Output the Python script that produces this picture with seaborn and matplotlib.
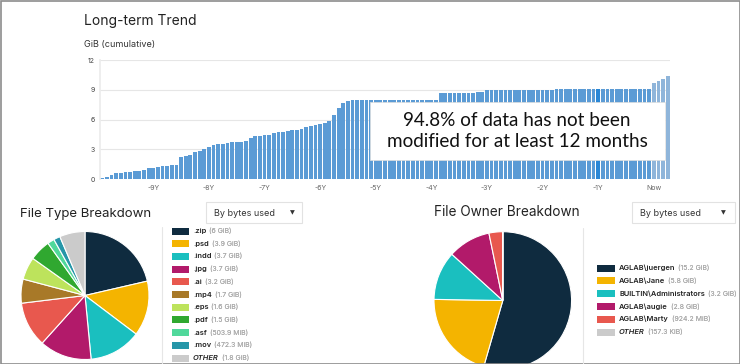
import seaborn as sns
import matplotlib.pyplot as plt
from matplotlib.patches import Rectangle
from matplotlib.transforms import Affine2D

# --- Data ---
MONTHS = list(range(-119, 4))
GIB_CUMULATIVE = [
    0.13, 0.23, 0.4, 0.64, 0.65, 0.68, 0.75, 0.8, 0.85, 0.9,
    1.1, 1.15, 1.2, 1.3, 1.35, 1.4, 1.4,
    2.2, 2.35, 2.45, 2.7, 2.8, 3.0, 3.2, 3.4, 3.5, 3.55, 3.6, 3.7, 3.7, 3.75, 3.8,
    4.1, 4.3, 4.35, 4.4, 4.45, 4.65, 4.7, 4.77, 4.8, 4.9, 4.95, 5.05, 5.2, 5.3,
    5.4, 5.5, 5.6, 5.8,
    6.5, 7.15, 7.65, 7.88,
    7.95, 7.95, 7.95, 7.95, 7.95, 7.95, 7.95, 7.95, 7.95, 7.95, 7.95, 7.95, 7.95,
    7.95, 7.95, 7.95, 7.95,
    8.0, 8.0,
    8.7, 8.7, 8.7, 8.7, 8.7, 8.7, 8.7, 8.7, 8.75, 8.75,
    9.0, 9.0, 9.0, 9.0, 9.0, 9.0, 9.0, 9.0, 9.0, 9.0, 9.0, 9.0, 9.0, 9.0, 9.0,
    9.1, 9.1, 9.1, 9.1, 9.1, 9.1, 9.1, 9.1, 9.1, 9.1, 9.1, 9.1, 9.1, 9.1, 9.1,
    9.1, 9.1, 9.1, 9.1, 9.1, 9.1,
    9.7, 9.9, 10.1, 10.35,
]
TICK_MONTHS = [-108, -96, -84, -72, -60, -48, -36, -24, -12, 0]
TICK_LABELS = ['-9Y', '-8Y', '-7Y', '-6Y', '-5Y', '-4Y', '-3Y', '-2Y', '-1Y', 'Now']
Y_TICKS = [0, 3, 6, 9, 12]
HIGHLIGHT_MONTH = -12

TYPE_NAMES = ['.zip', '.psd', '.indd', '.jpg', '.ai', '.mp4', '.eps', '.pdf',
              '.asf', '.mov', 'OTHER']
TYPE_SIZES = [6.0, 3.9, 3.7, 3.7, 3.2, 1.7, 1.6, 1.5, 0.492, 0.461, 1.8]
TYPE_SIZE_LABELS = ['6 GiB', '3.9 GiB', '3.7 GiB', '3.7 GiB', '3.2 GiB', '1.7 GiB',
                    '1.6 GiB', '1.5 GiB', '503.9 MiB', '472.3 MiB', '1.8 GiB']
TYPE_COLORS = ['#0f2b3f', '#f4b400', '#1abfbf', '#b21a6a', '#e8584e', '#a87928',
               '#bde35c', '#30a830', '#50d89b', '#2696a8', '#cbcbcb']

OWNER_NAMES = ['AGLAB\\juergen', 'AGLAB\\Jane', 'BUILTIN\\Administrators',
               'AGLAB\\augie', 'AGLAB\\Marty', 'OTHER']
OWNER_SIZES = [15.2, 5.8, 3.2, 2.8, 0.9025, 0.00015]
OWNER_SIZE_LABELS = ['15.2 GiB', '5.8 GiB', '3.2 GiB', '2.8 GiB', '924.2 MiB', '157.3 KiB']
OWNER_COLORS = ['#0f2b3f', '#f4b400', '#1abfbf', '#b21a6a', '#e8584e', '#cbcbcb']

BAR_COLOR = '#5b9bd5'
W, H = 740, 364

sns.set_theme(style="white")
plt.rcParams['font.family'] = ['Inter', 'DejaVu Sans']

fig = plt.figure(figsize=(W / 100, H / 100), dpi=100)
fig.patch.set_facecolor('white')
# pixel coords, origin at top-left
pix = Affine2D().scale(1 / W, -1 / H).translate(0, 1) + fig.transFigure


def frac(x0, y_top, x1, y_bot):
    return [x0 / W, 1 - y_bot / H, (x1 - x0) / W, (y_bot - y_top) / H]


# --- Long-term trend bars ---
ax = fig.add_axes(frac(100, 60, 670, 179))
sns.barplot(x=MONTHS, y=GIB_CUMULATIVE, native_scale=True, color=BAR_COLOR,
            width=0.82, saturation=1, edgecolor='none', ax=ax, zorder=2)
for m, patch in zip(MONTHS, ax.patches):
    if m == HIGHLIGHT_MONTH:
        patch.set_facecolor('#2a87d6')
    elif m >= 0:
        patch.set_facecolor('#8fb5da')
ax.set_xlim(MONTHS[0] - 0.5, MONTHS[-1] + 0.5)
ax.set_ylim(0, 12)
ax.set_yticks(Y_TICKS)
ax.set_yticklabels([str(v) for v in Y_TICKS], fontsize=5, color='#444444')
ax.set_xticks(TICK_MONTHS)
ax.set_xticklabels(TICK_LABELS, fontsize=5, color='#666666')
ax.tick_params(length=0, pad=4)
ax.grid(axis='y', color='#e6e6e6', lw=0.8, zorder=0)
for side in ['top', 'right', 'bottom']:
    ax.spines[side].set_visible(False)
ax.spines['left'].set_color('#ececec')
ax.set_xlabel('')
ax.set_ylabel('')

ax.add_patch(Rectangle((0.4737, 0.16), 0.518, 0.49, transform=ax.transAxes,
                       facecolor='white', edgecolor='#dddddd', lw=0.5, zorder=5))
ax.text(0.732, 0.405, '94.8% of data has not been\nmodified for at least 12 months',
        transform=ax.transAxes, ha='center', va='center', fontsize=13.6,
        family=['Lato', 'DejaVu Sans'], color='#111111', linespacing=1.3, zorder=6)

fig.text(84, 25, 'Long-term Trend', transform=pix, fontsize=10, color='#222222',
         va='baseline')
fig.text(84, 47, 'GiB (cumulative)', transform=pix, fontsize=6.5, color='#333333',
         va='baseline')

# --- Pies ---
def draw_pie(box, sizes, colors):
    pax = fig.add_axes(frac(*box))
    pax.pie(sizes, colors=colors, startangle=90, counterclock=False,
            wedgeprops={'edgecolor': 'white', 'linewidth': 0.8})
    pax.set_xlim(-1, 1)
    pax.set_ylim(-1, 1)
    return pax


draw_pie((21, 231.5, 149, 359.5), TYPE_SIZES, TYPE_COLORS)
draw_pie((434, 231.7, 571.6, 369.3), OWNER_SIZES, OWNER_COLORS)


def draw_legend(x0, y0, step, names, labels, colors, sw=17):
    for i, (name, lab, col) in enumerate(zip(names, labels, colors)):
        y = y0 + i * step
        fig.add_artist(Rectangle((x0, y + 3.5), sw, -7, transform=pix,
                                 facecolor=col, edgecolor='none'))
        t = fig.text(x0 + sw + 4, y, name, transform=pix, fontsize=5.4,
                     fontweight='semibold', color='#222222', va='center',
                     style='italic' if name == 'OTHER' else 'normal')
        ann = plt.annotate(f'({lab})', xy=(1, 0), xycoords=t, xytext=(2, 0),
                           textcoords='offset points', fontsize=5,
                           color='#aaaaaa', va='bottom', ha='left',
                           annotation_clip=False)
        fig.add_artist(ann)


draw_legend(172, 231, 12.7, TYPE_NAMES, TYPE_SIZE_LABELS, TYPE_COLORS)
draw_legend(597, 268, 12.8, OWNER_NAMES, OWNER_SIZE_LABELS, OWNER_COLORS, sw=18)

fig.text(20, 217, 'File Type Breakdown', transform=pix, fontsize=9.5,
         color='#222222', va='baseline')
fig.text(434, 216, 'File Owner Breakdown', transform=pix, fontsize=9.8,
         color='#222222', va='baseline')

# dropdowns
for (x0, x1, tx, arrow_x) in [(206, 302, 214, 292), (632, 735, 640, 723)]:
    fig.add_artist(Rectangle((x0, 223), x1 - x0, -21, transform=pix,
                             facecolor='white', edgecolor='#e2e2e2', lw=0.8))
    fig.text(tx, 215.5, 'By bytes used', transform=pix, fontsize=6.5,
             color='#333333', va='baseline')
    fig.text(arrow_x, 212.5, '▼', transform=pix, fontsize=4.5, color='#333333',
             va='center', ha='center', family=['DejaVu Sans'])

# separators and frame
fig.add_artist(plt.Line2D([162, 162], [227, 364], transform=pix, color='#e6e6e6', lw=0.8))
fig.add_artist(plt.Line2D([583, 583], [228, 364], transform=pix, color='#e6e6e6', lw=0.8))
fig.add_artist(Rectangle((0.5, 0.5), W - 1, H - 1, transform=pix, facecolor='none',
                         edgecolor='#8c8c8c', lw=1.2))

fig.savefig('out.png', dpi=100)
